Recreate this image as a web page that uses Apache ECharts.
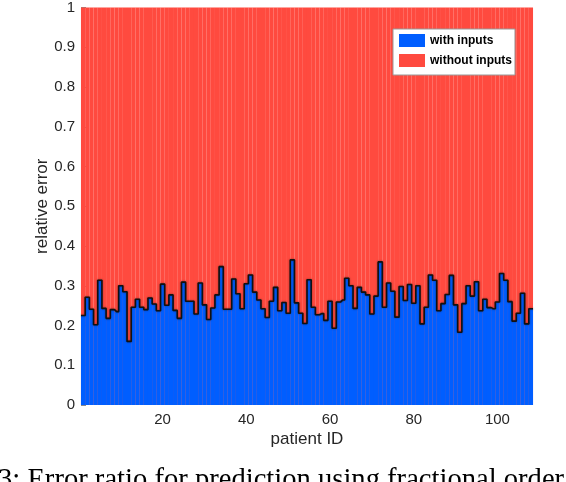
<!DOCTYPE html>
<html>
<head>
<meta charset="utf-8">
<script src="https://cdn.jsdelivr.net/npm/echarts@6/dist/echarts.min.js"></script>
<style>
html,body{margin:0;padding:0;background:#fff;}
#chart{width:566px;height:482px;}
</style>
</head>
<body>
<div id="chart"></div>
<script>
// relative error per patient (blue part)
var withInputs=[
 0.225,0.271,0.241,0.202,0.314,0.243,0.218,0.240,0.235,0.300,
 0.285,0.160,0.246,0.266,0.246,0.240,0.269,0.254,0.237,0.304,
 0.251,0.277,0.238,0.218,0.309,0.261,0.261,0.229,0.307,0.252,
 0.215,0.244,0.277,0.348,0.241,0.241,0.317,0.280,0.242,0.305,
 0.327,0.284,0.264,0.242,0.220,0.261,0.296,0.237,0.258,0.231,
 0.365,0.257,0.231,0.205,0.315,0.246,0.227,0.230,0.213,0.261,
 0.193,0.259,0.264,0.319,0.300,0.243,0.296,0.284,0.277,0.229,
 0.274,0.360,0.246,0.307,0.286,0.221,0.298,0.263,0.303,0.256,
 0.300,0.204,0.246,0.327,0.314,0.237,0.255,0.278,0.326,0.252,
 0.183,0.255,0.300,0.274,0.310,0.237,0.266,0.245,0.242,0.259,
 0.331,0.314,0.260,0.211,0.231,0.281,0.204,0.242
];
// the red part always reaches the top: with + without = 1
var totalRatio=withInputs.map(()=>1);
var patientIds=withInputs.map((v,i)=>i+1);
var xTicks=[20,40,60,80,100];
var yTicks=[0,0.1,0.2,0.3,0.4,0.5,0.6,0.7,0.8,0.9,1];

// outline along the top of the blue bars, padded to the plot edges
var outline=[[0.5,withInputs[0]]]
  .concat(patientIds.map((id,i)=>[id,withInputs[i]]))
  .concat([[108.5,withInputs[withInputs.length-1]]]);

var chart=echarts.init(document.getElementById("chart"));
var font='"Liberation Sans", Arial, sans-serif';
var chartoptions={
  animation:false,
  backgroundColor:'#fff',
  grid:{left:81,right:33,top:6,bottom:77},
  legend:{
    data:["with inputs","without inputs"],
    orient:'vertical',
    left:393,top:29,
    icon:'rect',
    itemWidth:26,itemHeight:13,itemGap:7,
    backgroundColor:'#fff',
    borderColor:'#999',borderWidth:1,borderRadius:0,
    padding:[5,3,8,6],
    textStyle:{fontFamily:font,fontSize:12,fontWeight:'bold',color:'#000'}
  },
  xAxis:{
    type:'value',
    min:0.5,max:108.5,
    name:'patient ID',
    nameLocation:'middle',
    nameGap:26,
    nameMoveOverlap:false,
    nameTextStyle:{fontFamily:font,fontSize:17,color:'#262626'},
    axisLine:{show:false},
    axisTick:{show:false},
    splitLine:{show:false},
    axisLabel:{customValues:xTicks,fontFamily:font,fontSize:15,color:'#262626',margin:7}
  },
  yAxis:{
    type:'value',
    min:0,max:1,interval:0.1,
    name:'relative error',
    nameLocation:'middle',
    nameGap:30,
    nameMoveOverlap:false,
    nameTextStyle:{fontFamily:font,fontSize:17,color:'#262626'},
    axisLine:{show:true,lineStyle:{color:'#8a8a8a',width:1}},
    axisTick:{show:true,inside:true,length:5,lineStyle:{color:'#8a8a8a'}},
    splitLine:{show:false},
    axisLabel:{fontFamily:font,fontSize:15,color:'#262626',margin:6,
      formatter:(v)=>{let s=yTicks.find((t)=>Math.abs(t-v)<1e-6);return s===undefined?'':String(s);}}
  },
  series:[
    {
      name:"without inputs",
      type:'bar',
      barWidth:4.25,
      barGap:'-100%',
      itemStyle:{color:'#ff4a3f'},
      data:patientIds.map((id,i)=>[id,totalRatio[i]]),
      z:2
    },
    {
      name:"with inputs",
      type:'bar',
      barWidth:4.25,
      barGap:'-100%',
      itemStyle:{color:'#005eff'},
      data:patientIds.map((id,i)=>[id,withInputs[i]]),
      z:3
    },
    {
      name:'outline',
      type:'line',
      step:'middle',
      symbol:'none',
      data:outline,
      lineStyle:{color:'#111',width:1.6,shadowBlur:2,shadowColor:'rgba(0,0,0,0.45)'},
      z:5
    }
  ],
  graphic:[
    {
      type:'text',
      left:-2,
      top:466,
      style:{
        text:'3: Error ratio for prediction using fractional order',
        font:'28.6px "Liberation Serif", "DejaVu Serif", serif',
        fill:'#000'
      }
    }
  ]
};
chart.setOption(chartoptions);
</script>
</body>
</html>
